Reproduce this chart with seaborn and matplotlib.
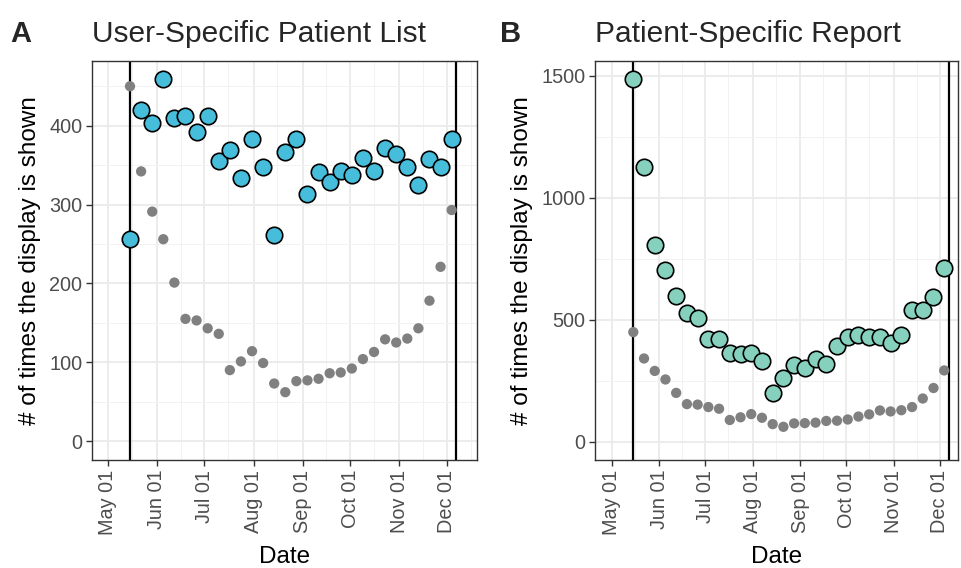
import matplotlib
matplotlib.use("Agg")
import matplotlib.pyplot as plt
import matplotlib.dates as mdates
from matplotlib.ticker import MultipleLocator
import pandas as pd
import seaborn as sns

# weekly dates shown in both panels
week_start = "2018-05-15"
n_weeks = 30
dates = pd.date_range(week_start, periods=n_weeks, freq="7D")

# overall (grey) counts, same in both panels
overall = [450, 342, 291, 256, 201, 155, 153, 143, 136, 90,
           101, 114, 99, 73, 62, 76, 77, 79, 86, 87,
           92, 104, 113, 129, 125, 130, 143, 178, 221, 293]

# user-specific patient list
patient_list = [256, 420, 404, 459, 410, 412, 392, 412, 355, 369,
                334, 383, 348, 261, 366, 383, 313, 341, 328, 343,
                338, 359, 342, 372, 364, 348, 325, 358, 348, 383]

# patient-specific report
patient_report = [1486, 1127, 806, 704, 598, 527, 506, 420, 420, 363,
                  360, 363, 330, 200, 261, 314, 302, 339, 318, 392,
                  428, 437, 428, 432, 404, 437, 539, 539, 592, 714]

window = ["2018-05-15", "2018-12-07"]

df = pd.DataFrame({"date": dates, "overall": overall,
                   "list": patient_list, "report": patient_report})

sns.set_theme(style="white")
plt.rcParams["font.family"] = ["Liberation Sans", "DejaVu Sans"]

fig = plt.figure(figsize=(9.61, 5.68), dpi=100)
axA = fig.add_axes([92 / 961, 108 / 568, 385 / 961, 399 / 568])
axB = fig.add_axes([595 / 961, 108 / 568, 363 / 961, 399 / 568])


def style_axis(ax, xlim, ylim, ystep):
    ax.set_xlim(pd.Timestamp(xlim[0]), pd.Timestamp(xlim[1]))
    ax.set_ylim(*ylim)
    ax.xaxis.set_major_locator(mdates.MonthLocator(bymonthday=1))
    ax.xaxis.set_major_formatter(mdates.DateFormatter("%b %d"))
    ax.xaxis.set_minor_locator(mdates.MonthLocator(bymonthday=16))
    ax.yaxis.set_major_locator(MultipleLocator(ystep))
    ax.yaxis.set_minor_locator(MultipleLocator(ystep / 2))
    ax.grid(True, which="major", color="#EBEBEB", linewidth=1.3, zorder=0)
    ax.grid(True, which="minor", color="#F2F2F2", linewidth=0.7, zorder=0)
    ax.set_axisbelow(True)
    for s in ax.spines.values():
        s.set_color("#333333")
        s.set_linewidth(1.0)
    ax.tick_params(axis="both", which="major", length=4, width=1.0, color="#333333",
                   labelsize=14.3, labelcolor="#4D4D4D", bottom=True, left=True, pad=3)
    ax.tick_params(axis="both", which="minor", length=0)
    for d in window:
        ax.axvline(pd.Timestamp(d), color="black", linewidth=1.6, zorder=1)


style_axis(axA, ("2018-04-21", "2018-12-20"), (-24, 482), 100)
style_axis(axB, ("2018-04-20", "2018-12-13"), (-74, 1561), 500)

for ax, col, color in [(axA, "list", "#46BDDA"), (axB, "report", "#86D1BE")]:
    sns.scatterplot(data=df, x="date", y="overall", ax=ax, color="#808080",
                    s=55, edgecolor="none", zorder=2, legend=False)
    sns.scatterplot(data=df, x="date", y=col, ax=ax, color=color,
                    s=140, edgecolor="black", linewidth=1.2, zorder=3, legend=False)
    ax.set_xlabel("Date", fontsize=17.5, color="black", labelpad=8)
    ax.set_ylabel("# of times the display is shown", fontsize=17.5, color="black", labelpad=6)
    plt.setp(ax.get_xticklabels(), rotation=90)

fig.text(10 / 961, 1 - 42 / 568, "A", fontsize=21, fontweight="bold")
fig.text(92 / 961, 1 - 42 / 568, "User-Specific Patient List", fontsize=21.5)
fig.text(500 / 961, 1 - 42 / 568, "B", fontsize=21, fontweight="bold")
fig.text(595 / 961, 1 - 42 / 568, "Patient-Specific Report", fontsize=21.5)

fig.savefig("out.png", dpi=100)
